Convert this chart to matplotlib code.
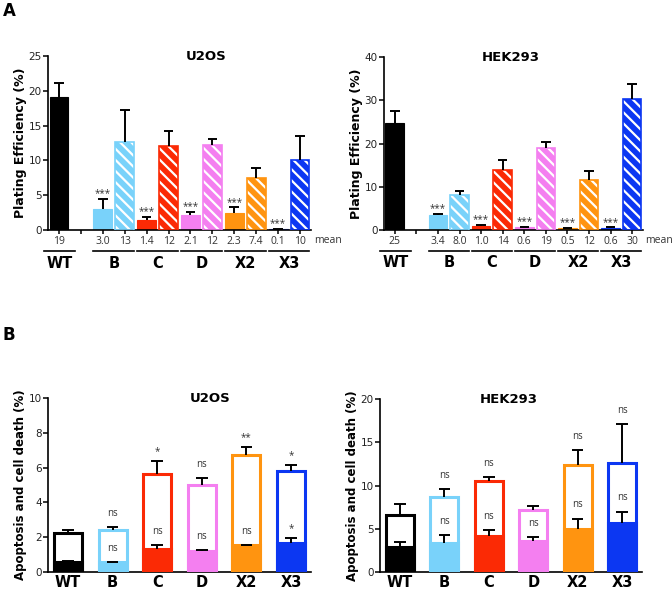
import matplotlib
matplotlib.use('Agg')
import matplotlib.pyplot as plt
from matplotlib.transforms import blended_transform_factory

plt.rcParams['font.family'] = ['DejaVu Sans']
plt.rcParams['hatch.linewidth'] = 1.6

groups = ['WT', 'B', 'C', 'D', 'X2', 'X3']
colors = ['#000000', '#79d2fa', '#fb2a05', '#f47ff0', '#ff9410', '#0c37f2']

# ---- Panel A: plating efficiency (solid bar + hatched bar per mutant) ----
u2os_a_solid = [19.1, 3.0, 1.45, 2.15, 2.4, 0.14]
u2os_a_solid_err = [2.1, 1.45, 0.45, 0.4, 0.85, 0.06]
u2os_a_hatch = [12.65, 12.1, 12.25, 7.45, 10.05]
u2os_a_hatch_err = [4.6, 2.1, 0.8, 1.5, 3.45]
u2os_a_sig = ['', '***', '***', '***', '***', '***']
u2os_a_means = ['19', '3.0', '13', '1.4', '12', '2.1', '12', '2.3', '7.4', '0.1', '10']

hek_a_solid = [24.85, 3.45, 1.0, 0.62, 0.46, 0.54]
hek_a_solid_err = [2.75, 0.35, 0.12, 0.1, 0.06, 0.07]
hek_a_hatch = [8.1, 13.9, 19.0, 11.5, 30.3]
hek_a_hatch_err = [1.0, 2.3, 1.3, 2.2, 3.6]
hek_a_sig = ['', '***', '***', '***', '***', '***']
hek_a_means = ['25', '3.4', '8.0', '1.0', '14', '0.6', '19', '0.5', '12', '0.6', '30']

# ---- Panel B: apoptosis and cell death (total outline + lower filled part) ----
u2os_b_total = [2.26, 2.43, 5.65, 4.98, 6.7, 5.8]
u2os_b_total_err = [0.17, 0.16, 0.75, 0.44, 0.48, 0.35]
u2os_b_lower = [0.57, 0.57, 1.34, 1.21, 1.53, 1.69]
u2os_b_lower_err = [0.04, 0.02, 0.23, 0.05, 0.04, 0.26]
u2os_b_sig_total = ['', 'ns', '*', 'ns', '**', '*']
u2os_b_sig_lower = ['', 'ns', 'ns', 'ns', 'ns', '*']

hek_b_total = [6.56, 8.69, 10.5, 7.18, 12.4, 12.66]
hek_b_total_err = [1.28, 0.85, 0.43, 0.42, 1.7, 4.41]
hek_b_lower = [2.9, 3.36, 4.17, 3.6, 4.98, 5.68]
hek_b_lower_err = [0.57, 0.96, 0.73, 0.45, 1.2, 1.31]
hek_b_sig_total = ['', 'ns', 'ns', '', 'ns', 'ns']
hek_b_sig_lower = ['', 'ns', 'ns', 'ns', 'ns', 'ns']

SIG_COLOR = '#333333'
LIGHT_FONT = ['Open Sans', 'DejaVu Sans']


def errbars(ax, x, y, e, half):
    tops = [a + b for a, b in zip(y, e)]
    ax.vlines(x, y, tops, color='black', lw=1.4, zorder=5)
    ax.hlines(tops, [xi - half for xi in x], [xi + half for xi in x],
              color='black', lw=1.4, zorder=5)
    return tops


def annotate(ax, x, tops, labels, off_star, off_txt):
    for xi, t, lab in zip(x, tops, labels):
        if not lab:
            continue
        off = off_star if '*' in lab else off_txt
        ax.annotate(lab, (xi, t), xytext=(0, off), textcoords='offset points',
                    ha='center', va='baseline', fontsize=7, color=SIG_COLOR,
                    family=LIGHT_FONT)


def style_axes(ax):
    for s in ['top', 'right']:
        ax.spines[s].set_visible(False)
    for s in ['left', 'bottom']:
        ax.spines[s].set_linewidth(1.2)
    ax.tick_params(axis='y', direction='out', length=3.5, width=1.1,
                   labelsize=7.5, pad=1, colors='black')
    for lab in ax.get_yticklabels():
        lab.set_color('#222222')


def panel_a(ax, solid, solid_err, hatch, hatch_err, sig, means, ymax, ystep, title, title_x):
    w = 0.86
    solid_x = [0] + [2 + 2 * i for i in range(len(hatch))]
    hatch_x = [3 + 2 * i for i in range(len(hatch))]
    ax.bar(solid_x, solid, width=w, color=colors, edgecolor=colors, lw=0.8, zorder=2)
    ax.bar(hatch_x, hatch, width=w, color=colors[1:], edgecolor='white',
           hatch='\\\\\\', lw=0, zorder=2)
    ax.bar(hatch_x, hatch, width=w, fill=False, edgecolor=colors[1:], lw=1.2, zorder=3)
    t1 = errbars(ax, solid_x, solid, solid_err, 0.22)
    errbars(ax, hatch_x, hatch, hatch_err, 0.22)
    annotate(ax, solid_x, t1, sig, 2.0, 2.0)
    ax.set_xlim(-0.5, 11.5)
    ax.set_ylim(0, ymax)
    ax.set_yticks(range(0, ymax + 1, ystep))
    style_axes(ax)
    ticks = list(range(12))
    labels = [means[0], ''] + means[1:]
    ax.set_xticks(ticks)
    ax.set_xticklabels(labels, fontsize=7.5, color='#333333', family=LIGHT_FONT)
    ax.tick_params(axis='x', direction='out', length=3, width=1.1, pad=1.0)
    ax.text(1.01, -0.058, 'mean', transform=ax.transAxes, fontsize=7.5,
            color='#333333', family=LIGHT_FONT, va='center', ha='left')
    ax.set_ylabel('Plating Efficiency (%)', fontsize=9, fontweight='bold', labelpad=1.0)
    ax.text(title_x, 1.0, title, transform=ax.transAxes, ha='center', va='center',
            fontsize=9.5, fontweight='bold')
    tr = blended_transform_factory(ax.transData, ax.transAxes)
    spans = [(-0.7, 0.75)] + [(2.5 + 2 * i - 0.93, 2.5 + 2 * i + 0.93) for i in range(len(hatch))]
    for (a, b), g in zip(spans, groups):
        ax.plot([a, b], [-0.121, -0.121], transform=tr, color='black', lw=1.2, clip_on=False)
        ax.text((a + b) / 2, -0.19, g, transform=tr, ha='center', va='center',
                fontsize=10.5, fontweight='bold')


def panel_b(ax, total, total_err, lower, lower_err, sig_t, sig_l, ymax, ystep, title, title_x):
    x = list(range(len(groups)))
    w = 0.63
    ax.bar(x, total, width=w, color='white', edgecolor=colors, lw=2.2, zorder=2)
    ax.bar(x, lower, width=w, color=colors, edgecolor=colors, lw=2.2, zorder=3)
    tt = errbars(ax, x, total, total_err, 0.13)
    tl = errbars(ax, x, lower, lower_err, 0.13)
    annotate(ax, x, tt, sig_t, 5.0, 8)
    annotate(ax, x, tl, sig_l, 5.0, 8)
    ax.set_xlim(-0.45, 5.45)
    ax.set_ylim(0, ymax)
    ax.set_yticks(range(0, ymax + 1, ystep))
    style_axes(ax)
    ax.set_xticks(x)
    ax.set_xticklabels(groups, fontsize=10.5, fontweight='bold')
    ax.tick_params(axis='x', length=0, pad=2.5)
    ax.set_ylabel('Apoptosis and cell death (%)', fontsize=8.5, fontweight='bold', labelpad=1.0)
    ax.text(title_x, 1.0, title, transform=ax.transAxes, ha='center', va='center',
            fontsize=9.5, fontweight='bold')


fig = plt.figure(figsize=(6.72, 5.90), dpi=100)
ax1 = fig.add_axes([0.0714, 0.610, 0.3914, 0.295])
ax2 = fig.add_axes([0.5714, 0.610, 0.3854, 0.293])
ax3 = fig.add_axes([0.0714, 0.0305, 0.3914, 0.2949])
ax4 = fig.add_axes([0.5655, 0.0305, 0.3899, 0.2932])

panel_a(ax1, u2os_a_solid, u2os_a_solid_err, u2os_a_hatch, u2os_a_hatch_err,
        u2os_a_sig, u2os_a_means, 25, 5, 'U2OS', 0.60)
panel_a(ax2, hek_a_solid, hek_a_solid_err, hek_a_hatch, hek_a_hatch_err,
        hek_a_sig, hek_a_means, 40, 10, 'HEK293', 0.49)
panel_b(ax3, u2os_b_total, u2os_b_total_err, u2os_b_lower, u2os_b_lower_err,
        u2os_b_sig_total, u2os_b_sig_lower, 10, 2, 'U2OS', 0.615)
panel_b(ax4, hek_b_total, hek_b_total_err, hek_b_lower, hek_b_lower_err,
        hek_b_sig_total, hek_b_sig_lower, 20, 5, 'HEK293', 0.49)

fig.text(0.004, 0.997, 'A', fontsize=12, fontweight='bold', va='top', ha='left')
fig.text(0.004, 0.448, 'B', fontsize=12, fontweight='bold', va='top', ha='left')

fig.savefig('out.png', dpi=100)
